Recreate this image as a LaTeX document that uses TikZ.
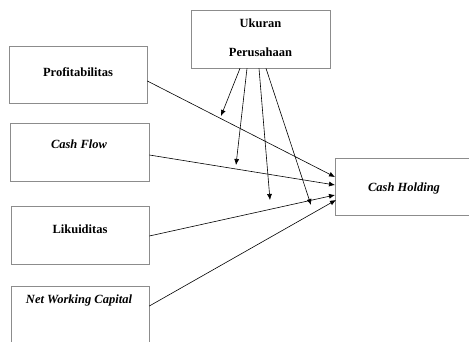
\documentclass[tikz,border=0pt]{standalone}
\usepackage{fontspec}
\setmainfont{Liberation Serif}
\usetikzlibrary{arrows.meta}
\begin{document}
\begin{tikzpicture}[x=1pt,y=-1pt,
  box/.style={draw=black!45,line width=0.7pt,rectangle,inner sep=0pt},
  lbl/.style={font=\fontsize{12.5}{14}\selectfont\bfseries,inner sep=0pt},
  ilbl/.style={lbl,font=\fontsize{12.5}{14}\selectfont\bfseries\itshape},
  arr/.style={-{Latex[length=6pt,width=5pt]},line width=0.6pt}]
\clip (0,0) rectangle (469,342);
\node[box,minimum width=139pt,minimum height=58pt] (uk) at (260.5,39) {};
\node[box,minimum width=138pt,minimum height=57pt] (prof) at (78,74.5) {};
\node[box,minimum width=139pt,minimum height=58pt] (cf) at (79.5,152) {};
\node[box,minimum width=138pt,minimum height=58pt] (lik) at (80,235) {};
\node[box,minimum width=138pt,minimum height=80pt] (nwc) at (80,326) {};
\node[box,minimum width=160pt,minimum height=57pt] (ch) at (415,186.5) {};
\node[lbl] (tuk1) at (260.5,23) {Ukuran};
\node[lbl] (tuk2) at (260.5,52) {Perusahaan};
\node[lbl] (tprof) at (78,72) {Profitabilitas};
\node[ilbl] (tcf) at (79,144) {Cash Flow};
\node[lbl] (tlik) at (80,229) {Likuiditas};
\node[ilbl] (tnwc) at (79,300) {Net Working Capital};
\node[ilbl] (tch) at (404,188) {Cash Holding};
% endpoints on Cash Holding
\coordinate (e1) at (335,177);
\coordinate (e2) at (335,185);
\coordinate (e3) at (335,195);
\coordinate (e4) at (336,200);
\draw[arr] (prof.east |- 0,81) -- (e1);
\draw[arr] (cf.east |- 0,155) -- (e2);
\draw[arr] (lik.east |- 0,236) -- (e3);
\draw[arr] (nwc.east |- 0,306) -- (e4);
% moderating arrows
\coordinate (m1) at (221,116);
\coordinate (m2) at (236,165);
\coordinate (m3) at (270,200);
\coordinate (m4) at (311,205);
\draw[arr] (uk.south -| 240,0) -- (m1);
\draw[arr] (uk.south -| 247,0) -- (m2);
\draw[arr] (uk.south -| 259,0) -- (m3);
\draw[arr] (uk.south -| 266,0) -- (m4);
\end{tikzpicture}
\end{document}
